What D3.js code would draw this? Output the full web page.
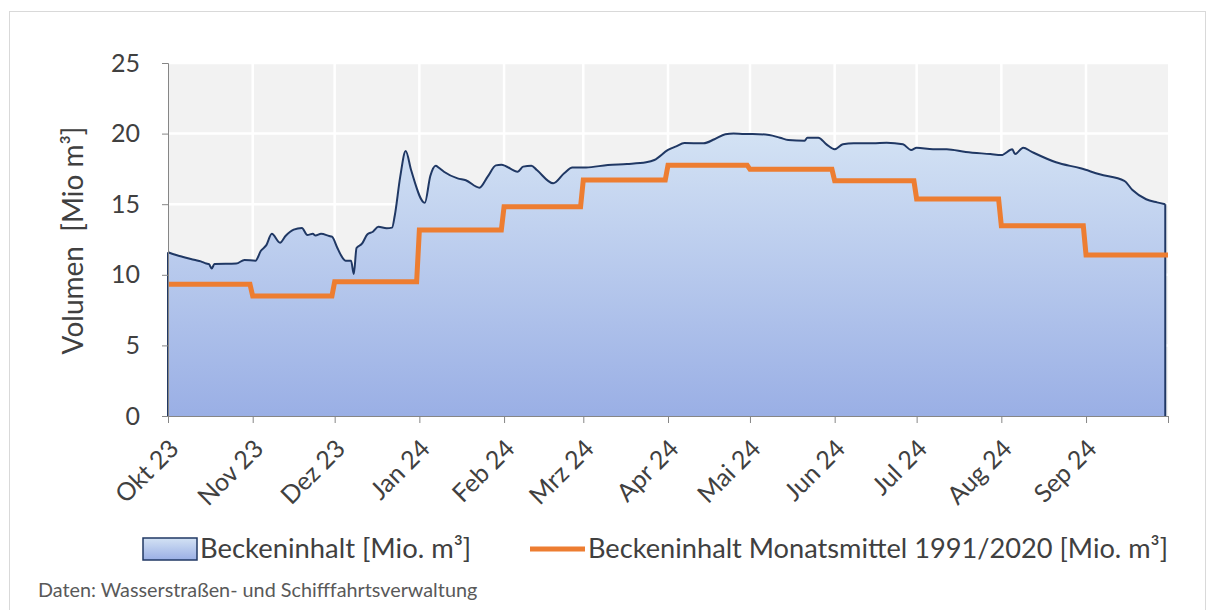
<!DOCTYPE html>
<html>
<head>
<meta charset="utf-8">
<script src="https://cdn.jsdelivr.net/npm/d3@7"></script>
<style>
  body { margin: 0; background: #fff; }
  svg { font-family: Lato, "Open Sans", sans-serif; }
</style>
</head>
<body>
<script>
// Beckeninhalt (date, Mio m3)
var beckeninhalt = [
  ["2023-10-01", 11.6], ["2023-10-04", 11.4], ["2023-10-11", 11.05], ["2023-10-13", 10.95],
  ["2023-10-15", 10.8], ["2023-10-16", 10.75], ["2023-10-17", 10.45], ["2023-10-18", 10.76],
  ["2023-10-26", 10.8], ["2023-10-29", 11.05], ["2023-11-02", 11.0], ["2023-11-04", 11.7],
  ["2023-11-06", 12.1], ["2023-11-08", 12.9], ["2023-11-11", 12.27], ["2023-11-13", 12.75],
  ["2023-11-16", 13.2], ["2023-11-19", 13.32], ["2023-11-21", 12.82], ["2023-11-23", 12.9],
  ["2023-11-24", 12.78], ["2023-11-26", 12.9], ["2023-11-29", 12.75], ["2023-11-30", 12.7],
  ["2023-12-02", 11.9], ["2023-12-03", 11.5], ["2023-12-05", 11.0], ["2023-12-07", 11.0],
  ["2023-12-08", 10.05], ["2023-12-09", 11.9], ["2023-12-11", 12.2], ["2023-12-13", 12.87],
  ["2023-12-15", 13.05], ["2023-12-17", 13.4], ["2023-12-20", 13.3], ["2023-12-22", 13.34],
  ["2023-12-23", 14.2], ["2023-12-25", 16.95], ["2023-12-27", 18.77], ["2023-12-29", 17.4],
  ["2024-01-03", 15.1], ["2024-01-05", 17.0], ["2024-01-07", 17.73], ["2024-01-08", 17.6],
  ["2024-01-10", 17.3], ["2024-01-15", 16.83], ["2024-01-18", 16.7], ["2024-01-23", 16.17],
  ["2024-01-26", 16.95], ["2024-01-29", 17.75], ["2024-01-31", 17.8], ["2024-02-06", 17.3],
  ["2024-02-08", 17.66], ["2024-02-11", 17.73], ["2024-02-13", 17.42], ["2024-02-19", 16.48],
  ["2024-02-23", 17.19], ["2024-02-26", 17.6], ["2024-03-02", 17.6], ["2024-03-10", 17.78],
  ["2024-03-17", 17.85], ["2024-03-24", 17.97], ["2024-03-27", 18.13], ["2024-04-01", 18.84],
  ["2024-04-04", 19.1], ["2024-04-07", 19.33], ["2024-04-14", 19.31], ["2024-04-18", 19.6],
  ["2024-04-22", 19.95], ["2024-04-25", 20.0], ["2024-04-29", 19.97], ["2024-05-02", 19.97],
  ["2024-05-08", 19.9], ["2024-05-12", 19.71], ["2024-05-15", 19.55], ["2024-05-21", 19.5],
  ["2024-05-22", 19.71], ["2024-05-26", 19.71], ["2024-05-29", 19.24], ["2024-06-01", 18.89],
  ["2024-06-04", 19.24], ["2024-06-08", 19.31], ["2024-06-15", 19.31], ["2024-06-20", 19.36],
  ["2024-06-26", 19.24], ["2024-06-29", 18.84], ["2024-07-01", 19.0], ["2024-07-07", 18.9],
  ["2024-07-12", 18.9], ["2024-07-19", 18.7], ["2024-07-28", 18.55], ["2024-08-01", 18.48],
  ["2024-08-05", 18.89], ["2024-08-06", 18.55], ["2024-08-09", 19.0], ["2024-08-12", 18.72],
  ["2024-08-21", 17.97], ["2024-08-30", 17.54], ["2024-09-06", 17.12], ["2024-09-15", 16.66],
  ["2024-09-18", 16.0], ["2024-09-23", 15.35], ["2024-09-27", 15.13], ["2024-09-30", 15.0]
];

// Monatsmittel 1991/2020, Okt .. Sep
var monatsmittel = [9.33, 8.5, 9.5, 13.17, 14.82, 16.71, 17.75, 17.47, 16.66, 15.37, 13.48, 11.4];
var monthLabels = ["Okt 23", "Nov 23", "Dez 23", "Jan 24", "Feb 24", "Mrz 24",
                   "Apr 24", "Mai 24", "Jun 24", "Jul 24", "Aug 24", "Sep 24"];
var yTicks = [0, 5, 10, 15, 20, 25];

var width = 1214,
    height = 610;
var plotLeft = 168, plotRight = 1168, plotTop = 63, plotBottom = 416;

var parse = d3.utcParse("%Y-%m-%d");
var start = parse("2023-10-01"),
    end = parse("2024-10-01");

var data = beckeninhalt.map(function(d) { return { date: parse(d[0]), value: d[1] }; });

var x = d3.scaleUtc().domain([start, end]).range([plotLeft, plotRight]);
var y = d3.scaleLinear().domain([0, 25]).range([plotBottom, plotTop]);

var svg = d3.select("body").append("svg")
    .attr("width", width)
    .attr("height", height);

// frame
svg.append("rect")
    .attr("x", 9.5).attr("y", 11.5)
    .attr("width", 1196).attr("height", 640)
    .attr("fill", "#fff")
    .attr("stroke", "#d9d9d9");

var defs = svg.append("defs");
var grad = defs.append("linearGradient")
    .attr("id", "fillGrad")
    .attr("x1", 0).attr("y1", 0).attr("x2", 0).attr("y2", 1);
grad.append("stop").attr("offset", "0%").attr("stop-color", "#d3e2f4");
grad.append("stop").attr("offset", "100%").attr("stop-color", "#9aafe5");

// plot background
svg.append("rect")
    .attr("x", plotLeft).attr("y", plotTop)
    .attr("width", plotRight - plotLeft).attr("height", plotBottom - plotTop)
    .attr("fill", "#f2f2f2");

var months = d3.utcMonth.range(start, d3.utcDay.offset(end, 1));

// grid
svg.append("g").selectAll("line")
    .data(yTicks.slice(1))
    .enter().append("line")
    .attr("x1", plotLeft).attr("x2", plotRight)
    .attr("y1", function(d) { return y(d); })
    .attr("y2", function(d) { return y(d); })
    .attr("stroke", "#fff").attr("stroke-width", 2.5);

svg.append("g").selectAll("line")
    .data(months.slice(1, 12))
    .enter().append("line")
    .attr("y1", plotTop).attr("y2", plotBottom)
    .attr("x1", function(d) { return x(d); })
    .attr("x2", function(d) { return x(d); })
    .attr("stroke", "#fff").attr("stroke-width", 2.5);

// area
var area = d3.area()
    .curve(d3.curveMonotoneX)
    .x(function(d) { return x(d.date); })
    .y0(y(0))
    .y1(function(d) { return y(d.value); });

svg.append("path")
    .datum(data)
    .attr("d", area)
    .attr("fill", "url(#fillGrad)");

var first = data[0], last = data[data.length - 1];
svg.append("path")
    .datum(data)
    .attr("d", d3.line()
        .curve(d3.curveMonotoneX)
        .x(function(d) { return x(d.date); })
        .y(function(d) { return y(d.value); }))
    .attr("fill", "none")
    .attr("stroke", "#203864")
    .attr("stroke-width", 2)
    .attr("stroke-linejoin", "round");

svg.append("g").selectAll("line")
    .data([first, last])
    .enter().append("line")
    .attr("x1", function(d) { return x(d.date); })
    .attr("x2", function(d) { return x(d.date); })
    .attr("y1", function(d) { return y(d.value); })
    .attr("y2", y(0))
    .attr("stroke", "#203864")
    .attr("stroke-width", 2);

// monthly mean step line
var steps = [];
monatsmittel.forEach(function(v, i) {
  var s = d3.utcMonth.offset(start, i),
      n = d3.utcMonth.offset(start, i + 1);
  steps.push({ date: s, value: v });
  steps.push({ date: i === monatsmittel.length - 1 ? n : d3.utcDay.offset(n, -1), value: v });
});

svg.append("path")
    .datum(steps)
    .attr("d", d3.line()
        .x(function(d) { return x(d.date); })
        .y(function(d) { return y(d.value); }))
    .attr("fill", "none")
    .attr("stroke", "#ed7d31")
    .attr("stroke-width", 5);

// axes
var yAxis = svg.append("g")
    .attr("transform", "translate(" + plotLeft + ",0)")
    .call(d3.axisLeft(y).tickValues(yTicks).tickSize(6).tickPadding(22));
yAxis.select(".domain").attr("stroke", "#868686");
yAxis.selectAll(".tick line").attr("stroke", "#868686");
yAxis.selectAll("text")
    .attr("font-size", 25)
    .attr("font-family", "Lato")
    .attr("fill", "#404040");

var xAxis = svg.append("g")
    .attr("transform", "translate(0," + plotBottom + ")")
    .call(d3.axisBottom(x).tickValues(months).tickSize(7).tickFormat(""));
xAxis.select(".domain").attr("stroke", "#868686");
xAxis.selectAll(".tick line").attr("stroke", "#868686");

svg.append("g").selectAll("text")
    .data(monthLabels)
    .enter().append("text")
    .attr("transform", function(d, i) {
      return "translate(" + (x(months[i]) + 6) + "," + (plotBottom + 28) + ") rotate(-45)";
    })
    .attr("text-anchor", "end")
    .attr("dy", "0.35em")
    .attr("font-size", 25)
    .attr("fill", "#404040")
    .text(function(d) { return d; });

// y title
svg.append("text")
    .attr("transform", "translate(83," + ((plotTop + plotBottom) / 2 + 1) + ") rotate(-90)")
    .attr("text-anchor", "middle")
    .attr("font-size", 28)
    .attr("fill", "#404040")
    .attr("xml:space", "preserve")
    .text("Volumen  [Mio m³]");

// legend
var lg = svg.append("g");
lg.append("rect")
    .attr("x", 143).attr("y", 538)
    .attr("width", 54).attr("height", 22)
    .attr("fill", "url(#fillGrad)")
    .attr("stroke", "#203864")
    .attr("stroke-width", 1.5);
lg.append("text")
    .attr("x", 200).attr("y", 558)
    .attr("font-size", 27.4)
    .attr("fill", "#404040")
    .text("Beckeninhalt [Mio. m³]");
lg.append("line")
    .attr("x1", 530).attr("x2", 585)
    .attr("y1", 549).attr("y2", 549)
    .attr("stroke", "#ed7d31")
    .attr("stroke-width", 5);
lg.append("text")
    .attr("x", 588).attr("y", 558)
    .attr("font-size", 27.2)
    .attr("fill", "#404040")
    .text("Beckeninhalt Monatsmittel 1991/2020 [Mio. m³]");

// source
svg.append("text")
    .attr("x", 38).attr("y", 597)
    .attr("font-size", 19.8)
    .attr("fill", "#595959")
    .text("Daten: Wasserstraßen- und Schifffahrtsverwaltung");
</script>
</body>
</html>
